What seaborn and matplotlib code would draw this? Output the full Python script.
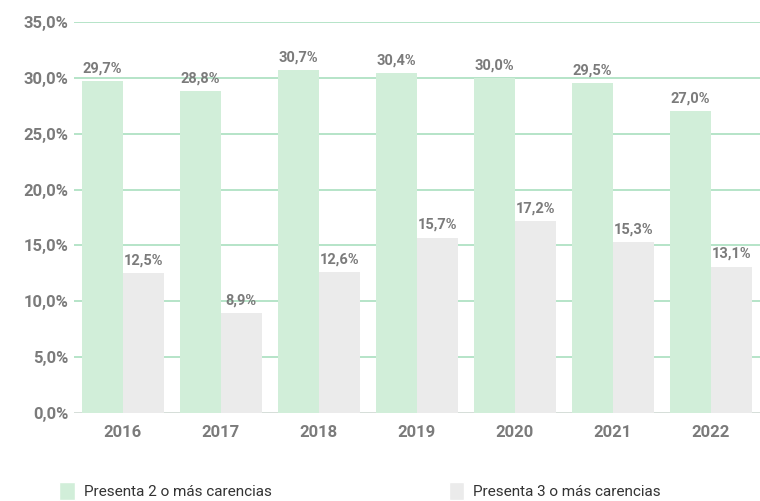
import pandas as pd
import matplotlib.pyplot as plt
import seaborn as sns
from matplotlib.patches import Patch

# datos
anios = ["2016", "2017", "2018", "2019", "2020", "2021", "2022"]
carencias_2 = [29.7, 28.8, 30.7, 30.4, 30.0, 29.5, 27.0]
carencias_3 = [12.5, 8.9, 12.6, 15.7, 17.2, 15.3, 13.1]
serie_2 = "Presenta 2 o más carencias"
serie_3 = "Presenta 3 o más carencias"

df = pd.DataFrame({
    "anio": anios * 2,
    "valor": carencias_2 + carencias_3,
    "serie": [serie_2] * len(anios) + [serie_3] * len(anios),
})

sns.set_style("white")
plt.rcParams['font.family'] = ['Roboto', 'DejaVu Sans']

verde = "#d1eed9"
gris = "#ebebeb"
texto = "#7b7b7b"
grid_c = "#a9dfbf"

fig = plt.figure(figsize=(7.6, 5.01), dpi=100)
ax = fig.add_axes([0.097, 0.176, 0.903, 0.780])

sns.barplot(data=df, x="anio", y="valor", hue="serie", palette=[verde, gris],
            width=0.84, gap=0, saturation=1, linewidth=0, legend=False, ax=ax, zorder=2)

for container in ax.containers:
    labels = [f"{v:.1f}%".replace(".", ",") for v in container.datavalues]
    ax.bar_label(container, labels=labels, padding=4, fontsize=10.5,
                 fontweight="bold", color=texto)

ax.set_ylim(0, 35)
ax.set_xlim(-0.5, 6.5)
ax.set_yticks(range(0, 36, 5))
ax.set_yticklabels([f"{t:.1f}%".replace(".", ",") for t in range(0, 36, 5)])
ax.yaxis.grid(True, color=grid_c, linewidth=1.2, zorder=0)
ax.set_axisbelow(True)
for s in ax.spines.values():
    s.set_visible(False)
ax.axhline(0, color="#dddddd", linewidth=1.2, zorder=1)

ax.tick_params(axis="both", length=0, labelsize=12, labelcolor=texto)
ax.tick_params(axis="x", pad=9)
for lab in ax.get_xticklabels() + ax.get_yticklabels():
    lab.set_fontweight("bold")
ax.set_xlabel("")
ax.set_ylabel("")

handles = [Patch(facecolor=verde, label=serie_2), Patch(facecolor=gris, label=serie_3)]
fig.legend(handles=handles, loc="lower left", bbox_to_anchor=(0.06, -0.025), ncol=2,
           frameon=False, fontsize=11, labelcolor="#333333", handlelength=1.0,
           handleheight=1.4, handletextpad=0.6, columnspacing=11.6)

fig.savefig("out.png", dpi=100)
